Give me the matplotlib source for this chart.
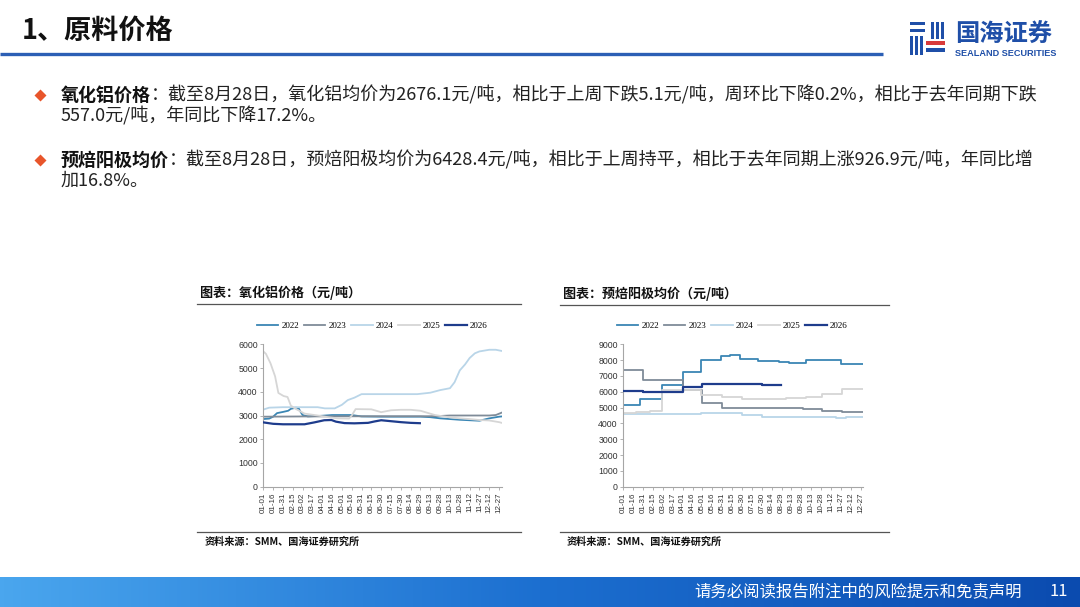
import matplotlib
matplotlib.use("Agg")
import matplotlib.pyplot as plt
import numpy as np
from datetime import date
from matplotlib.font_manager import FontProperties
from matplotlib.patches import Rectangle
from matplotlib.colors import LinearSegmentedColormap

plt.rcParams['font.family'] = ['Noto Sans CJK SC', 'DejaVu Sans']

years = ['2022', '2023', '2024', '2025', '2026']
colors = ['#3A86B4', '#7F8B98', '#B9D5E8', '#D6D6D6', '#1E3C8C']
widths = [1.3, 1.3, 1.3, 1.3, 1.6]

tick_labels = ['01-01', '01-16', '01-31', '02-15', '03-02', '03-17', '04-01', '04-16',
               '05-01', '05-16', '05-31', '06-15', '06-30', '07-15', '07-30', '08-14',
               '08-29', '09-13', '09-28', '10-13', '10-28', '11-12', '11-27', '12-12', '12-27']

# 氧化铝价格 (元/吨)
al_dates_2022 = ['01-01', '01-10', '01-16', '01-22', '01-31', '02-08', '02-12', '02-20', '02-24',
                 '02-27', '03-02', '03-10', '04-01', '04-16', '05-16', '05-31', '06-30', '07-30',
                 '08-29', '09-13', '09-28', '10-13', '10-28', '11-12', '11-27', '12-12', '12-27', '12-31']
al_2022 = [2850, 2870, 2950, 3100, 3150, 3200, 3280, 3330, 3300, 3150, 3020, 2960, 2990, 3020,
           3020, 2960, 2950, 2950, 2950, 2930, 2880, 2850, 2820, 2800, 2780, 2880, 2950, 2960]

al_dates_2023 = ['01-01', '03-02', '06-30', '09-13', '09-28', '10-13', '11-27', '12-12', '12-22', '12-31']
al_2023 = [2950, 2960, 2970, 2970, 2980, 3000, 3000, 3000, 3020, 3120]

al_dates_2024 = ['01-01', '01-10', '01-31', '03-02', '03-25', '04-05', '04-20', '05-01', '05-10',
                 '05-20', '05-31', '06-30', '07-30', '08-24', '09-13', '09-28', '10-13', '10-20',
                 '10-28', '11-05', '11-12', '11-20', '11-27', '12-12', '12-22', '12-31']
al_2024 = [3250, 3330, 3350, 3350, 3350, 3300, 3300, 3450, 3650, 3750, 3900, 3900, 3900, 3900,
           3960, 4070, 4150, 4400, 4900, 5150, 5420, 5620, 5700, 5770, 5770, 5720]

al_dates_2025 = ['01-01', '01-05', '01-12', '01-19', '01-24', '02-01', '02-07', '02-12', '02-18',
                 '03-05', '03-25', '04-10', '04-25', '05-12', '05-16', '05-22', '06-15', '06-30',
                 '07-15', '07-30', '08-14', '08-29', '09-20', '10-13', '10-28', '11-12', '11-27',
                 '12-12', '12-27', '12-31']
al_2025 = [5700, 5600, 5200, 4650, 3950, 3820, 3780, 3420, 3300, 3080, 3000, 2930, 2880, 2870,
           3000, 3270, 3260, 3140, 3220, 3240, 3240, 3200, 3020, 2920, 2880, 2850, 2810, 2790,
           2720, 2690]

al_dates_2026 = ['01-01', '01-16', '01-31', '03-05', '03-20', '04-04', '04-15', '04-22', '05-05',
                 '05-20', '06-10', '06-20', '06-30', '07-15', '07-30', '08-14', '08-28']
al_2026 = [2710, 2650, 2630, 2630, 2710, 2800, 2810, 2740, 2680, 2670, 2690, 2750, 2800, 2760,
           2720, 2690, 2676]

# 预焙阳极均价 (元/吨), step changes
an_dates_2022 = ['01-01', '01-27', '03-01', '04-01', '04-29', '05-29', '06-12', '06-27', '07-25',
                 '08-25', '09-10', '10-05', '11-27', '12-31']
an_2022 = [5150, 5550, 6420, 7260, 8000, 8260, 8330, 8060, 7920, 7870, 7800, 8000, 7780, 7780]

an_dates_2023 = ['01-01', '01-31', '04-01', '05-01', '05-31', '09-30', '10-30', '11-28', '12-31']
an_2023 = [7380, 6730, 6110, 5300, 5000, 4920, 4800, 4710, 4710]

an_dates_2024 = ['01-01', '04-29', '06-30', '07-31', '09-30', '11-20', '12-05', '12-31']
an_2024 = [4600, 4670, 4530, 4430, 4400, 4340, 4390, 4390]

an_dates_2025 = ['01-01', '01-20', '02-10', '03-01', '04-29', '05-31', '06-30', '09-05', '10-05',
                 '10-30', '11-28', '12-31']
an_2025 = [4650, 4720, 4780, 6130, 5800, 5700, 5520, 5580, 5670, 5880, 6200, 6200]

an_dates_2026 = ['01-01', '01-31', '04-01', '05-01', '06-30', '07-31', '08-28']
an_2026 = [6080, 6000, 6280, 6460, 6500, 6430, 6428.4]


def doy(s):
    m, d = s.split('-')
    return date(2023, int(m), int(d)).timetuple().tm_yday - 1


W, H = 1080, 607
fig = plt.figure(figsize=(W / 100, H / 100), dpi=100)
bg = fig.add_axes([0, 0, 1, 1])
bg.set_xlim(0, W)
bg.set_ylim(H, 0)
bg.axis('off')

# header
bg.text(22, 31, '1、原料价格', fontsize=19.5, fontweight='bold', va='center', ha='left', color='#111111')
bg.plot([0, 883], [54, 54], color='#2C5FB5', lw=2.4, solid_capstyle='butt')

# logo
logo_blue = '#1F4FA8'
for (x0, y0, w, h) in [(910, 22, 15, 3), (910, 29, 15, 3),
                       (910, 36, 3, 19), (915, 36, 3, 19), (920, 36, 3, 19),
                       (931, 22, 3, 17), (936, 22, 3, 17), (941, 22, 3, 17),
                       (926, 48, 19, 4)]:
    bg.add_patch(Rectangle((x0, y0), w, h, color=logo_blue, lw=0))
bg.add_patch(Rectangle((926, 41), 19, 4, color='#D93A3A', lw=0))
bg.text(955, 35, '国海证券', fontsize=17.5, fontweight='bold', color=logo_blue, va='center', ha='left')
bg.text(955, 53.5, 'SEALAND SECURITIES', fontsize=6.6, fontweight='bold', color=logo_blue,
        va='center', ha='left', family='Liberation Sans')

# bullets
renderer = fig.canvas.get_renderer()
bullets = [
    ('氧化铝价格', '：截至8月28日，氧化铝均价为2676.1元/吨，相比于上周下跌5.1元/吨，周环比下降0.2%，相比于去年同期下跌',
     '557.0元/吨，年同比下降17.2%。', 95),
    ('预焙阳极均价', '：截至8月28日，预焙阳极均价为6428.4元/吨，相比于上周持平，相比于去年同期上涨926.9元/吨，年同比增',
     '加16.8%。', 160),
]
for head, rest, second, y in bullets:
    bg.plot([40], [y], marker='D', ms=6.5, color='#E8552B', mec='none')
    t = bg.text(61, y, head, fontsize=13, fontweight='bold', va='center', ha='left', color='#111111')
    bb = t.get_window_extent(renderer)
    bg.text(bb.x1, y, rest, fontsize=13, va='center', ha='left', color='#222222')
    bg.text(61, y + 21, second, fontsize=13, va='center', ha='left', color='#222222')

# footer gradient bar
cmap = LinearSegmentedColormap.from_list('bar', ['#4AA6EE', '#1C6FD0', '#0B4BAF'])
bg.imshow(np.linspace(0, 1, 256).reshape(1, -1), cmap=cmap, aspect='auto',
          extent=[0, W, H, 577], zorder=0)
bg.set_xlim(0, W)
bg.set_ylim(H, 0)
bg.text(1022, 592, '请务必阅读报告附注中的风险提示和免责声明', fontsize=11.8, color='white',
        va='center', ha='right')
bg.text(1068, 592, '11', fontsize=11.8, color='white', va='center', ha='right')

tick_pos = [doy(s) for s in tick_labels]
leg_font = FontProperties(family='Liberation Serif', size=6.5)
tick_font = 'Liberation Sans'


def chart(x_l, x_r, y_t, y_b, ymax, ystep, dates, values, steps, title, box, leg_c):
    ax = fig.add_axes([x_l / W, 1 - y_b / H, (x_r - x_l) / W, (y_b - y_t) / H])
    for i in range(5):
        xs = [doy(s) for s in dates[i]]
        ax.plot(xs, values[i], color=colors[i], lw=widths[i], label=years[i],
                drawstyle='steps-post' if steps else 'default', zorder=2 + (i == 4))
    ax.set_xlim(0, 364)
    ax.set_ylim(0, ymax)
    ax.set_yticks(np.arange(0, ymax + 1, ystep))
    ax.set_xticks(tick_pos)
    ax.set_xticklabels(tick_labels, rotation=90, fontsize=5.8, family=tick_font, color='#333333')
    for lab in ax.get_yticklabels():
        lab.set_fontsize(6.3)
        lab.set_family(tick_font)
        lab.set_color('#333333')
    for s in ['top', 'right']:
        ax.spines[s].set_visible(False)
    for s in ['left', 'bottom']:
        ax.spines[s].set_color('#A6A6A6')
        ax.spines[s].set_linewidth(0.8)
    ax.tick_params(axis='both', length=2.5, width=0.6, color='#A6A6A6', pad=1.5)
    ax.set_facecolor('none')
    ax.legend(loc='center', bbox_to_anchor=(leg_c[0] / W, 1 - leg_c[1] / H),
              bbox_transform=fig.transFigure, ncol=5, frameon=False, handlelength=2.4,
              handletextpad=0.3, columnspacing=0.55, prop=leg_font)
    bx0, bx1, ty, src_x = box
    bg.text(bx0 + 3, ty - 11, title, fontsize=9.4, fontweight='bold', va='center', ha='left',
            color='#111111')
    bg.plot([bx0, bx1], [ty, ty], color='#555555', lw=0.9)
    bg.plot([bx0, bx1], [531.5, 531.5], color='#555555', lw=0.9)
    bg.text(src_x, 542, '资料来源：SMM、国海证券研究所', fontsize=7.3, fontweight='bold', va='center',
            ha='left', color='#111111')
    return ax


chart(263.3, 501.7, 344.3, 486.7, 6000, 1000,
      [al_dates_2022, al_dates_2023, al_dates_2024, al_dates_2025, al_dates_2026],
      [al_2022, al_2023, al_2024, al_2025, al_2026], False,
      '图表：氧化铝价格（元/吨）', (197, 521, 304, 205), (372, 326))
chart(623.3, 863.3, 344.3, 486.7, 9000, 1000,
      [an_dates_2022, an_dates_2023, an_dates_2024, an_dates_2025, an_dates_2026],
      [an_2022, an_2023, an_2024, an_2025, an_2026], True,
      '图表：预焙阳极均价（元/吨）', (560, 889, 304.5, 567), (732, 326))

fig.savefig('out.png', dpi=100)
